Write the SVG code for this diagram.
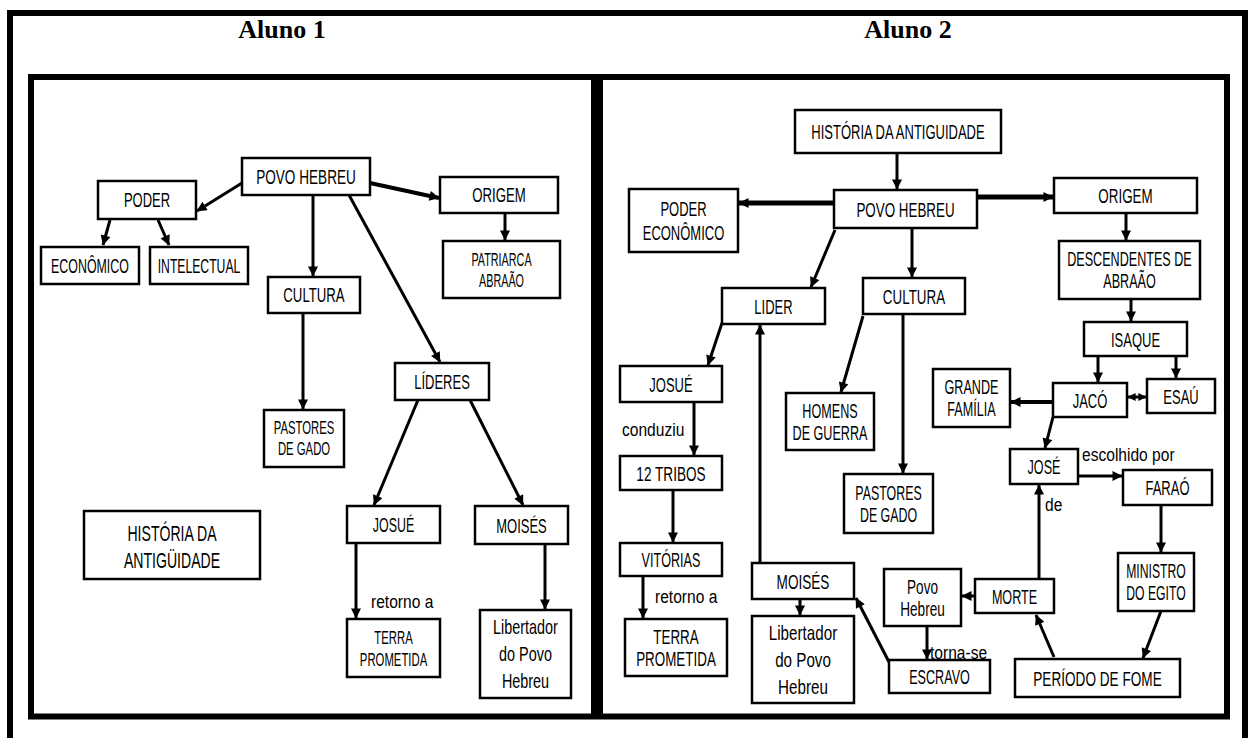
<svg xmlns="http://www.w3.org/2000/svg" width="1248" height="738" viewBox="0 0 1248 738">
<defs>
<marker id="ah" viewBox="0 0 10 10" refX="9.5" refY="5" markerWidth="11" markerHeight="10" markerUnits="userSpaceOnUse" orient="auto-start-reverse"><path d="M0,0 L10,5 L0,10 z" fill="#000"/></marker>
<marker id="ah2" viewBox="0 0 10 10" refX="9.5" refY="5" markerWidth="8" markerHeight="10" markerUnits="userSpaceOnUse" orient="auto-start-reverse"><path d="M0,0 L10,5 L0,10 z" fill="#000"/></marker>
<style>
.fr{fill:none;stroke:#000;stroke-width:6}
.b{fill:#fff;stroke:#000;stroke-width:2.5}
.t{font-family:"Liberation Sans",Arial,sans-serif;font-size:20px;text-anchor:middle;fill:#000}
.s{font-size:18px}
.h{font-size:22px}
.lbl{font-family:"Liberation Sans",Arial,sans-serif;font-size:19px;fill:#000}
.ttl{font-family:"Liberation Serif","Times New Roman",serif;font-weight:bold;font-size:26px;text-anchor:middle}
.c{stroke:#000;stroke-width:3;fill:none;marker-end:url(#ah)}
.k{stroke-width:5}
.m{stroke-width:4}
</style>
</defs>
<rect width="1248" height="738" fill="#fff"/>
<g id="frames">
<path class="fr" d="M10,738 V13 H1245 V738"/>
<rect class="fr" x="31" y="77" width="563" height="639.5"/>
<rect class="fr" x="600" y="77" width="627" height="639.5"/>
<text class="ttl" x="282" y="38">Aluno 1</text>
<text class="ttl" x="908" y="38">Aluno 2</text>
</g>
<g id="connectors">
<!-- Aluno 1 -->
<line class="c" x1="242" y1="183" x2="197" y2="211"/>
<line class="c" x1="110" y1="220" x2="103" y2="245"/>
<line class="c" x1="158" y1="220" x2="169" y2="245"/>
<line class="c" x1="313" y1="195" x2="313" y2="276"/>
<line class="c m" x1="370" y1="183" x2="439" y2="198"/>
<line class="c" x1="505" y1="213" x2="505" y2="240"/>
<line class="c" x1="349" y1="195" x2="440" y2="362"/>
<line class="c" x1="303" y1="313" x2="303" y2="409"/>
<line class="c" x1="418" y1="400" x2="374" y2="505"/>
<line class="c" x1="470" y1="400" x2="523" y2="505"/>
<line class="c" x1="356" y1="543" x2="356" y2="618"/>
<line class="c" x1="545" y1="544" x2="545" y2="609"/>
<!-- Aluno 2 -->
<line class="c" x1="897" y1="153" x2="897" y2="189"/>
<line class="c k" x1="834" y1="203" x2="739" y2="203"/>
<line class="c k" x1="977" y1="197" x2="1053" y2="197"/>
<line class="c" x1="1126" y1="213" x2="1126" y2="240"/>
<line class="c" x1="835" y1="230" x2="811" y2="287"/>
<line class="c" x1="912" y1="228" x2="912" y2="277"/>
<line class="c" x1="1131" y1="299" x2="1131" y2="321"/>
<line class="c" x1="722" y1="323" x2="708" y2="365"/>
<line class="c" x1="863" y1="316" x2="841" y2="392"/>
<line class="c" x1="903" y1="314" x2="903" y2="473"/>
<line class="c" x1="1098" y1="356" x2="1098" y2="382"/>
<line class="c" x1="1176" y1="356" x2="1176" y2="378"/>
<line x1="1128" y1="397" x2="1146" y2="397" stroke="#000" stroke-width="3" marker-start="url(#ah2)" marker-end="url(#ah2)"/>
<line class="c m" x1="1053" y1="402" x2="1011" y2="402"/>
<line class="c" x1="1053" y1="417" x2="1045" y2="448"/>
<line class="c" x1="1078" y1="476" x2="1122" y2="476"/>
<line class="c" x1="1039" y1="579" x2="1039" y2="485"/>
<line class="c" x1="1161" y1="505" x2="1161" y2="552"/>
<line class="c" x1="1161" y1="611" x2="1143" y2="658"/>
<line class="c" x1="1054" y1="657" x2="1036" y2="615"/>
<line class="c" x1="975" y1="596" x2="962" y2="596"/>
<line class="c" x1="927" y1="626" x2="927" y2="659"/>
<line class="c" x1="889" y1="662" x2="856" y2="598"/>
<line class="c" x1="760" y1="563" x2="760" y2="325"/>
<line class="c" x1="800" y1="599" x2="800" y2="615"/>
<line class="c" x1="694" y1="402" x2="694" y2="455"/>
<line class="c" x1="673" y1="490" x2="673" y2="542"/>
<line class="c" x1="643" y1="576" x2="643" y2="618"/>
<text class="lbl" transform="translate(371,608) scale(.82,1)">retorno a</text>
<text class="lbl" transform="translate(655,603) scale(.82,1)">retorno a</text>
<text class="lbl" transform="translate(622,436) scale(.82,1)">conduziu</text>
<text class="lbl" transform="translate(1082,461) scale(.82,1)">escolhido por</text>
<text class="lbl" transform="translate(930,659) scale(.82,1)">torna-se</text>
<text class="lbl" transform="translate(1045,511) scale(.82,1)">de</text>
</g>
<!-- Aluno 1 nodes -->
<g id="a1-povo"><rect class="b" x="242" y="158" width="128" height="37"/><text class="t" transform="translate(306,183.5) scale(.68,1)">POVO HEBREU</text></g>
<g id="a1-poder"><rect class="b" x="98" y="181" width="98" height="38"/><text class="t" transform="translate(147,207) scale(.65,1)">PODER</text></g>
<g id="a1-origem"><rect class="b" x="440" y="177" width="118" height="36"/><text class="t" transform="translate(499,202) scale(.66,1)">ORIGEM</text></g>
<g id="a1-economico"><rect class="b" x="41" y="247" width="98" height="37"/><text class="t" transform="translate(90,272.5) scale(.62,1)">ECONÔMICO</text></g>
<g id="a1-intelectual"><rect class="b" x="150" y="247" width="98" height="37"/><text class="t" transform="translate(199,272.5) scale(.61,1)">INTELECTUAL</text></g>
<g id="a1-patriarca"><rect class="b" x="443" y="241" width="117" height="57"/><text class="t s" transform="translate(501.5,265.5) scale(.6,1)"><tspan x="0">PATRIARCA</tspan><tspan x="0" dy="22">ABRAÃO</tspan></text></g>
<g id="a1-cultura"><rect class="b" x="268" y="277" width="92" height="36"/><text class="t" transform="translate(314,302) scale(.66,1)">CULTURA</text></g>
<g id="a1-pastores"><rect class="b" x="264" y="410" width="80" height="57"/><text class="t s" transform="translate(304,433.5) scale(.63,1)"><tspan x="0">PASTORES</tspan><tspan x="0" dy="22">DE GADO</tspan></text></g>
<g id="a1-lideres"><rect class="b" x="395" y="363" width="94" height="37"/><text class="t" transform="translate(442,389) scale(.65,1)">LÍDERES</text></g>
<g id="a1-josue"><rect class="b" x="347" y="506" width="93" height="37"/><text class="t" transform="translate(393.5,532) scale(.62,1)">JOSUÉ</text></g>
<g id="a1-moises"><rect class="b" x="475" y="506" width="93" height="38"/><text class="t" transform="translate(521.5,532.5) scale(.65,1)">MOISÉS</text></g>
<g id="a1-historia"><rect class="b" x="84" y="511" width="176" height="68"/><text class="t h" transform="translate(172,541) scale(.64,1)"><tspan x="0">HISTÓRIA DA</tspan><tspan x="0" dy="27">ANTIGÜIDADE</tspan></text></g>
<g id="a1-terra"><rect class="b" x="347" y="619" width="93" height="58"/><text class="t s" transform="translate(393.5,643.5) scale(.63,1)"><tspan x="0">TERRA</tspan><tspan x="0" dy="23">PROMETIDA</tspan></text></g>
<g id="a1-libertador"><rect class="b" x="480" y="610" width="91" height="88"/><text class="t" transform="translate(525.5,634) scale(.72,1)"><tspan x="0">Libertador</tspan><tspan x="0" dy="27">do Povo</tspan><tspan x="0" dy="27">Hebreu</tspan></text></g>
<!-- Aluno 2 nodes -->
<g id="a2-historia"><rect class="b" x="795" y="110" width="206" height="43"/><text class="t" transform="translate(898,139) scale(.65,1)">HISTÓRIA DA ANTIGUIDADE</text></g>
<g id="a2-povo"><rect class="b" x="834" y="190" width="143" height="38"/><text class="t" transform="translate(905.5,216.5) scale(.67,1)">POVO HEBREU</text></g>
<g id="a2-poder"><rect class="b" x="629" y="189" width="109" height="63"/><text class="t" transform="translate(683.5,216) scale(.65,1)"><tspan x="0">PODER</tspan><tspan x="0" dy="24">ECONÔMICO</tspan></text></g>
<g id="a2-origem"><rect class="b" x="1054" y="178" width="143" height="35"/><text class="t" transform="translate(1125.5,203) scale(.67,1)">ORIGEM</text></g>
<g id="a2-descendentes"><rect class="b" x="1059" y="241" width="141" height="58"/><text class="t" transform="translate(1129.5,265.5) scale(.63,1)"><tspan x="0">DESCENDENTES DE</tspan><tspan x="0" dy="23">ABRAÃO</tspan></text></g>
<g id="a2-lider"><rect class="b" x="722" y="288" width="103" height="36"/><text class="t" transform="translate(773.5,313.5) scale(.65,1)">LIDER</text></g>
<g id="a2-cultura"><rect class="b" x="863" y="278" width="102" height="36"/><text class="t" transform="translate(914,303.5) scale(.67,1)">CULTURA</text></g>
<g id="a2-isaque"><rect class="b" x="1084" y="322" width="103" height="34"/><text class="t" transform="translate(1135.5,346.5) scale(.65,1)">ISAQUE</text></g>
<g id="a2-josue"><rect class="b" x="620" y="366" width="102" height="36"/><text class="t" transform="translate(671,391.5) scale(.65,1)">JOSUÉ</text></g>
<g id="a2-grande"><rect class="b" x="933" y="369" width="77" height="58"/><text class="t" transform="translate(971.5,393.5) scale(.63,1)"><tspan x="0">GRANDE</tspan><tspan x="0" dy="23">FAMÍLIA</tspan></text></g>
<g id="a2-jaco"><rect class="b" x="1053" y="383" width="74" height="34"/><text class="t" transform="translate(1090,407.5) scale(.65,1)">JACÓ</text></g>
<g id="a2-esau"><rect class="b" x="1147" y="379" width="68" height="34"/><text class="t" transform="translate(1181,403.5) scale(.65,1)">ESAÚ</text></g>
<g id="a2-homens"><rect class="b" x="786" y="393" width="88" height="57"/><text class="t" transform="translate(830,417.5) scale(.63,1)"><tspan x="0">HOMENS</tspan><tspan x="0" dy="23">DE GUERRA</tspan></text></g>
<g id="a2-jose"><rect class="b" x="1010" y="449" width="68" height="35"/><text class="t" transform="translate(1044,474) scale(.63,1)">JOSÉ</text></g>
<g id="a2-farao"><rect class="b" x="1123" y="470" width="89" height="35"/><text class="t" transform="translate(1167.5,495) scale(.65,1)">FARAÓ</text></g>
<g id="a2-tribos"><rect class="b" x="620" y="456" width="102" height="34"/><text class="t" transform="translate(671,480.5) scale(.68,1)">12 TRIBOS</text></g>
<g id="a2-pastores"><rect class="b" x="844" y="474" width="89" height="59"/><text class="t" transform="translate(888.5,499.5) scale(.62,1)"><tspan x="0">PASTORES</tspan><tspan x="0" dy="23">DE GADO</tspan></text></g>
<g id="a2-vitorias"><rect class="b" x="620" y="543" width="102" height="33"/><text class="t" transform="translate(671,567) scale(.63,1)">VITÓRIAS</text></g>
<g id="a2-ministro"><rect class="b" x="1118" y="553" width="76" height="58"/><text class="t" transform="translate(1156,577.5) scale(.61,1)"><tspan x="0">MINISTRO</tspan><tspan x="0" dy="23">DO EGITO</tspan></text></g>
<g id="a2-moises"><rect class="b" x="752" y="563" width="102" height="36"/><text class="t" transform="translate(803,588.5) scale(.68,1)">MOISÉS</text></g>
<g id="a2-povohebreu"><rect class="b" x="884" y="569" width="77" height="57"/><text class="t" transform="translate(922.5,593.5) scale(.68,1)"><tspan x="0">Povo</tspan><tspan x="0" dy="23">Hebreu</tspan></text></g>
<g id="a2-morte"><rect class="b" x="975" y="579" width="79" height="34"/><text class="t" transform="translate(1014.5,603.5) scale(.63,1)">MORTE</text></g>
<g id="a2-libertador"><rect class="b" x="752" y="616" width="102" height="87"/><text class="t" transform="translate(803,640) scale(.76,1)"><tspan x="0">Libertador</tspan><tspan x="0" dy="27">do Povo</tspan><tspan x="0" dy="27">Hebreu</tspan></text></g>
<g id="a2-terra"><rect class="b" x="625" y="619" width="102" height="57"/><text class="t" transform="translate(676,643.5) scale(.67,1)"><tspan x="0">TERRA</tspan><tspan x="0" dy="23">PROMETIDA</tspan></text></g>
<g id="a2-escravo"><rect class="b" x="889" y="660" width="101" height="33"/><text class="t" transform="translate(939.5,684) scale(.63,1)">ESCRAVO</text></g>
<g id="a2-periodo"><rect class="b" x="1015" y="659" width="165" height="38"/><text class="t" transform="translate(1097.5,685.5) scale(.68,1)">PERÍODO DE FOME</text></g>
</svg>
